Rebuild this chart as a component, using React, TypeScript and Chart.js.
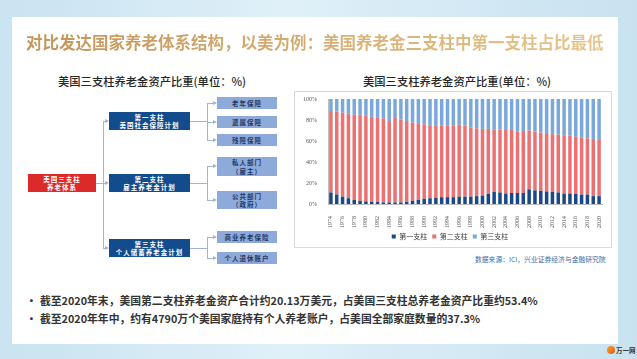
import React, { useEffect, useRef } from "react";
import { Chart, registerables } from "chart.js";

Chart.register(...registerables);

const years = ["1974","1975","1976","1977","1978","1979","1980","1981","1982","1983","1984","1985","1986","1987","1988","1989","1990","1991","1992","1993","1994","1995","1996","1997","1998","1999","2000","2001","2002","2003","2004","2005","2006","2007","2008","2009","2010","2011","2012","2013","2014","2015","2016","2017","2018","2019","2020"];

const pillar1 = [11,9,7,5.5,4,3,2.5,2,2,1.5, 1.5,1.5,1.5,2,3,4,5,5.5,6,6.5, 6.5,6.5,7,7,7,7.5,8,9.5,11.5,11, 10,10.5,10.5,10.5,14,13,12.5,12,11.5,11, 10,10,9.5,9,9,7.5,7.5];
const pillar2 = [77.5,79,80,80.5,81,82,82,81,80,80, 77.5,80.5,79,77,74.5,73,71,69.5,69,68, 68.5,68.5,68.5,67.5,66,64.5,63.5,62,59.5,60, 60.5,60,58.5,59,56,56,55.5,55.5,55,55, 55.5,55,54.5,54.5,53.5,54.5,53.5];
const pillar3 = [11.5,12,13,14,15,15,15.5,17,18,18.5, 21,18,19.5,21,22.5,23,24,25,25,25.5, 25,25,24.5,25.5,27,28,28.5,28.5,29,29, 29.5,29.5,31,30.5,30,31,32,32.5,33.5,34, 34.5,35,36,36.5,37.5,38,39];
const seriesNames = ["第一支柱", "第二支柱", "第三支柱"];
const yTicks = [0, 20, 40, 60, 80, 100];

const CJK = '"Noto Sans CJK SC", "Noto Sans", sans-serif';

const abs = (l: number, t: number, w: number, h: number): React.CSSProperties => ({
  position: "absolute", left: l, top: t, width: w, height: h,
});

function Box({ l, t, w, h, bg, color, lines, size = 7 }: any) {
  return (
    <div style={{ ...abs(l, t, w, h), background: bg, color, display: "flex", flexDirection: "column", justifyContent: "center", alignItems: "center", fontFamily: CJK, fontSize: size, fontWeight: 700, lineHeight: 1.25, letterSpacing: 1 }}>
      {lines.map((s: string, i: number) => <div key={i}>{s}</div>)}
    </div>
  );
}

const LINE = "#9fb5d2";
function HLine({ x1, x2, y }: any) {
  return <div style={{ ...abs(x1, y, x2 - x1, 1), background: LINE }} />;
}
function VLine({ x, y1, y2 }: any) {
  return <div style={{ ...abs(x, y1, 1, y2 - y1 + 1), background: LINE }} />;
}
function Arrow({ x1, x2, y }: any) {
  return (
    <>
      <div style={{ ...abs(x1, y, x2 - x1 - 3, 1), background: LINE }} />
      <div style={{ position: "absolute", left: x2 - 4, top: y - 2, width: 0, height: 0, borderTop: "2.5px solid transparent", borderBottom: "2.5px solid transparent", borderLeft: `4px solid ${LINE}` }} />
    </>
  );
}

function BarChart() {
  const ref = useRef<HTMLCanvasElement | null>(null);
  useEffect(() => {
    if (!ref.current) return;
    const tickFont = { family: '"Liberation Serif", serif', size: 6 };
    const chart = new Chart(ref.current, {
      type: "bar",
      data: {
        labels: years,
        datasets: [
          { label: seriesNames[0], data: pillar1, backgroundColor: "#1b4889" },
          { label: seriesNames[1], data: pillar2, backgroundColor: "#ec7172" },
          { label: seriesNames[2], data: pillar3, backgroundColor: "#7aa8dc" },
        ],
      },
      options: {
        animation: false,
        responsive: false,
        maintainAspectRatio: false,
        layout: { padding: { left: 4, right: 10, top: 8, bottom: 0 } },
        datasets: { bar: { categoryPercentage: 1, barPercentage: 0.6 } },
        scales: {
          x: {
            stacked: true,
            grid: { display: false },
            border: { display: true, color: "#bfbfbf" },
            ticks: {
              autoSkip: false, maxRotation: 90, minRotation: 90, padding: 4,
              font: tickFont, color: "#595959",
              callback: (v: any, i: number) => (i % 2 === 0 ? years[i] : ""),
            },
            afterFit: (s: any) => { s.height = 24; },
          },
          y: {
            stacked: true, min: 0, max: 100,
            afterBuildTicks: (s: any) => { s.ticks = yTicks.map((v) => ({ value: v })); },
            grid: { display: false },
            border: { display: true, color: "#bfbfbf" },
            ticks: { font: tickFont, color: "#595959", padding: 3, callback: (v: any) => v + "%" },
            afterFit: (s: any) => { s.width = 30; },
          },
        },
        plugins: {
          legend: {
            position: "bottom",
            labels: { boxWidth: 4, boxHeight: 4, padding: 5, font: { family: CJK, size: 7 }, color: "#404040" },
          },
          tooltip: { enabled: false },
        },
      } as any,
    });
    return () => chart.destroy();
  }, []);
  return <canvas ref={ref} width={318} height={159} style={{ display: "block", width: 318, height: 159 }} />;
}

export default function App() {
  return (
    <div style={{ position: "absolute", left: 0, top: 0, width: 637, height: 359, overflow: "hidden", background: "linear-gradient(90deg, #c9e3f1 0%, #dff0f8 45%, #c8e2f0 100%)", fontFamily: CJK }}>
      <div style={{ ...abs(12, 17, 606, 327), background: "#ffffff" }} />
      <div style={{ position: "absolute", left: 26, top: 30, fontSize: 16.5, fontWeight: 700, whiteSpace: "nowrap", background: "linear-gradient(90deg, #c3955a, #e6c68c)", WebkitBackgroundClip: "text", backgroundClip: "text", color: "transparent" }}>
        对比发达国家养老体系结构，以美为例：美国养老金三支柱中第一支柱占比最低
      </div>

      {/* left diagram */}
      <div style={{ position: "absolute", left: 58, top: 73, fontSize: 11.3, fontWeight: 500, color: "#262626", whiteSpace: "nowrap" }}>美国三支柱养老金资产比重(单位：%)</div>

      <Box l={28} t={174} w={68} h={18} bg="#dc2a2a" color="#fff" lines={["美国三支柱", "养老体系"]} size={6.5} />
      <Box l={109} t={112} w={81} h={18} bg="#124c8c" color="#fff" lines={["第一支柱", "美国社会保障计划"]} size={6.5} />
      <Box l={109} t={174} w={81} h={18} bg="#124c8c" color="#fff" lines={["第二支柱", "雇主养老金计划"]} size={6.5} />
      <Box l={109} t={239} w={81} h={18} bg="#124c8c" color="#fff" lines={["第三支柱", "个人储蓄养老金计划"]} size={6.5} />

      <Box l={217} t={97} w={60} h={12} bg="#8eaadb" color="#1f3864" lines={["老年保障"]} size={6.5} />
      <Box l={217} t={116} w={60} h={12} bg="#8eaadb" color="#1f3864" lines={["遗属保障"]} size={6.5} />
      <Box l={217} t={134} w={60} h={12} bg="#8eaadb" color="#1f3864" lines={["残障保障"]} size={6.5} />
      <Box l={217} t={157} w={60} h={19} bg="#8eaadb" color="#1f3864" lines={["私人部门", "（雇主）"]} size={6.5} />
      <Box l={217} t={191} w={60} h={18} bg="#8eaadb" color="#1f3864" lines={["公共部门", "（政府）"]} size={6.5} />
      <Box l={217} t={231} w={60} h={12} bg="#8eaadb" color="#1f3864" lines={["商业养老保险"]} size={6.5} />
      <Box l={217} t={252} w={60} h={12} bg="#8eaadb" color="#1f3864" lines={["个人退休账户"]} size={6.5} />

      <HLine x1={96} x2={103} y={183} />
      <VLine x={103} y1={121} y2={248} />
      <Arrow x1={103} x2={109} y={121} />
      <Arrow x1={103} x2={109} y={183} />
      <Arrow x1={103} x2={109} y={248} />

      <HLine x1={190} x2={207} y={121} />
      <VLine x={207} y1={103} y2={140} />
      <Arrow x1={207} x2={217} y={103} />
      <Arrow x1={207} x2={217} y={122} />
      <Arrow x1={207} x2={217} y={140} />

      <HLine x1={190} x2={207} y={183} />
      <VLine x={207} y1={166} y2={200} />
      <Arrow x1={207} x2={217} y={166} />
      <Arrow x1={207} x2={217} y={200} />

      <HLine x1={190} x2={207} y={248} />
      <VLine x={207} y1={237} y2={258} />
      <Arrow x1={207} x2={217} y={237} />
      <Arrow x1={207} x2={217} y={258} />

      {/* right chart */}
      <div style={{ position: "absolute", left: 363, top: 73, fontSize: 11.3, fontWeight: 500, color: "#262626", whiteSpace: "nowrap" }}>美国三支柱养老金资产比重(单位：%)</div>
      <div style={{ ...abs(294, 91, 318, 157), border: "1px solid #d9d9d9", boxSizing: "border-box" }} />
      <div style={{ ...abs(294, 91, 318, 159) }}>
        <BarChart />
      </div>
      <div style={{ position: "absolute", left: 475, top: 254, fontSize: 6.8, color: "#3b6ea8", whiteSpace: "nowrap" }}>数据来源：ICI，兴业证券经济与金融研究院</div>

      {/* bullets */}
      <div style={{ position: "absolute", left: 26, top: 291, fontSize: 10.8, fontWeight: 700, color: "#333", whiteSpace: "nowrap", lineHeight: "18px" }}>
        <div><span style={{ display: "inline-block", width: 14 }}>•</span>截至2020年末，美国第二支柱养老金资产合计约20.13万美元，占美国三支柱总养老金资产比重约53.4%</div>
        <div><span style={{ display: "inline-block", width: 14 }}>•</span>截至2020年年中，约有4790万个美国家庭持有个人养老账户，占美国全部家庭数量的37.3%</div>
      </div>

      {/* logo */}
      <div style={{ position: "absolute", left: 607, top: 346, width: 8, height: 8, borderRadius: "50%", background: "linear-gradient(135deg, #f5a623, #e8541e)" }} />
      <div style={{ position: "absolute", left: 616, top: 345, fontSize: 6.5, fontWeight: 700, color: "#333", whiteSpace: "nowrap" }}>万一网</div>
    </div>
  );
}
